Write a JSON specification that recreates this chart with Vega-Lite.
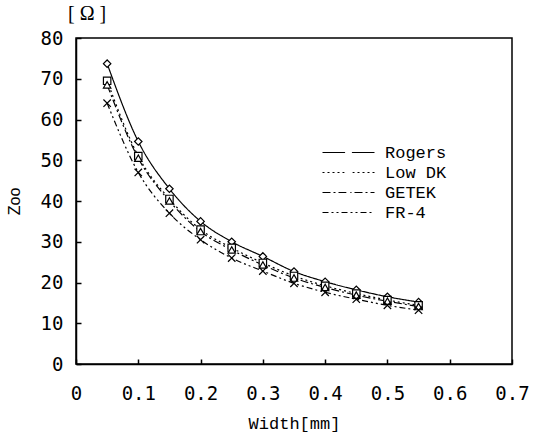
{
  "$schema": "https://vega.github.io/schema/vega-lite/v6.json",
  "width": 436,
  "height": 326,
  "autosize": {"type": "none"},
  "padding": {"left": 76, "top": 38, "right": 28, "bottom": 70},
  "background": "white",
  "title": {"text": "[ Ω ]", "anchor": "start", "frame": "group", "dx": -8, "offset": 5, "font": "Liberation Serif", "fontSize": 20, "fontWeight": "normal", "color": "black"},
  "config": {
    "view": {"stroke": "black", "strokeWidth": 1.5},
    "axis": {"grid": false, "domainColor": "black", "domainWidth": 1.5, "tickColor": "black", "tickSize": -5, "tickWidth": 1.5, "labelColor": "black", "labelFont": "DejaVu Sans Mono", "labelFontSize": 19, "titleColor": "black", "titleFontWeight": "normal"}
  },
  "data": {
    "values": [
      {"w": 0.05, "zoo": 73.7, "s": "Rogers"},
      {"w": 0.10, "zoo": 54.6, "s": "Rogers"},
      {"w": 0.15, "zoo": 43.0, "s": "Rogers"},
      {"w": 0.20, "zoo": 35.0, "s": "Rogers"},
      {"w": 0.25, "zoo": 30.0, "s": "Rogers"},
      {"w": 0.30, "zoo": 26.4, "s": "Rogers"},
      {"w": 0.35, "zoo": 22.7, "s": "Rogers"},
      {"w": 0.40, "zoo": 20.2, "s": "Rogers"},
      {"w": 0.45, "zoo": 18.2, "s": "Rogers"},
      {"w": 0.50, "zoo": 16.5, "s": "Rogers"},
      {"w": 0.55, "zoo": 15.2, "s": "Rogers"},
      {"w": 0.05, "zoo": 69.5, "s": "Low DK"},
      {"w": 0.10, "zoo": 51.0, "s": "Low DK"},
      {"w": 0.15, "zoo": 40.5, "s": "Low DK"},
      {"w": 0.20, "zoo": 33.0, "s": "Low DK"},
      {"w": 0.25, "zoo": 28.5, "s": "Low DK"},
      {"w": 0.30, "zoo": 24.8, "s": "Low DK"},
      {"w": 0.35, "zoo": 21.6, "s": "Low DK"},
      {"w": 0.40, "zoo": 19.2, "s": "Low DK"},
      {"w": 0.45, "zoo": 17.3, "s": "Low DK"},
      {"w": 0.50, "zoo": 15.7, "s": "Low DK"},
      {"w": 0.55, "zoo": 14.4, "s": "Low DK"},
      {"w": 0.05, "zoo": 68.5, "s": "GETEK"},
      {"w": 0.10, "zoo": 50.5, "s": "GETEK"},
      {"w": 0.15, "zoo": 40.0, "s": "GETEK"},
      {"w": 0.20, "zoo": 32.5, "s": "GETEK"},
      {"w": 0.25, "zoo": 28.0, "s": "GETEK"},
      {"w": 0.30, "zoo": 24.3, "s": "GETEK"},
      {"w": 0.35, "zoo": 21.1, "s": "GETEK"},
      {"w": 0.40, "zoo": 18.8, "s": "GETEK"},
      {"w": 0.45, "zoo": 16.9, "s": "GETEK"},
      {"w": 0.50, "zoo": 15.4, "s": "GETEK"},
      {"w": 0.55, "zoo": 14.1, "s": "GETEK"},
      {"w": 0.05, "zoo": 64.0, "s": "FR-4"},
      {"w": 0.10, "zoo": 47.0, "s": "FR-4"},
      {"w": 0.15, "zoo": 37.0, "s": "FR-4"},
      {"w": 0.20, "zoo": 30.5, "s": "FR-4"},
      {"w": 0.25, "zoo": 26.0, "s": "FR-4"},
      {"w": 0.30, "zoo": 22.8, "s": "FR-4"},
      {"w": 0.35, "zoo": 19.8, "s": "FR-4"},
      {"w": 0.40, "zoo": 17.6, "s": "FR-4"},
      {"w": 0.45, "zoo": 15.9, "s": "FR-4"},
      {"w": 0.50, "zoo": 14.4, "s": "FR-4"},
      {"w": 0.55, "zoo": 13.2, "s": "FR-4"}
    ]
  },
  "encoding": {
    "x": {"field": "w", "type": "quantitative", "scale": {"domain": [0, 0.7], "nice": false},
      "axis": {"values": [0, 0.1, 0.2, 0.3, 0.4, 0.5, 0.6, 0.7], "format": ".1~f", "labelPadding": 25, "title": "Width[mm]", "titleFont": "Liberation Mono", "titleFontSize": 17, "titlePadding": 12, "labelFlush": false}},
    "y": {"field": "zoo", "type": "quantitative", "scale": {"domain": [0, 80], "nice": false},
      "axis": {"values": [0, 10, 20, 30, 40, 50, 60, 70, 80], "labelPadding": 18, "title": "Zoo", "titleFont": "Liberation Sans", "titleFontSize": 16, "titlePadding": 18}}
  },
  "layer": [
    {
      "mark": {"type": "line", "interpolate": "monotone", "color": "black", "strokeWidth": 1.2},
      "encoding": {
        "strokeDash": {"field": "s", "type": "nominal",
          "scale": {"domain": ["FR-4", "GETEK", "Low DK", "Rogers"], "range": [[6, 3, 2, 3, 2, 3], [8, 3, 2, 3], [2, 3], [1, 0]]},
          "legend": {
            "orient": "none", "legendX": 264, "legendY": 106, "title": null, "padding": 0,
            "values": ["Rogers", "Low DK", "GETEK", "FR-4"],
            "symbolType": "M-5.2,0H5.2", "symbolSize": 100, "symbolStrokeWidth": 1.2, "symbolStrokeColor": "black", "symbolFillColor": "transparent", "symbolOpacity": 1,
            "labelFont": "Liberation Mono", "labelFontSize": 17, "labelColor": "black", "labelOpacity": 0, "labelOffset": 28, "rowPadding": 2
          }
        }
      }
    },
    {
      "mark": {"type": "point", "filled": false, "fill": "white", "stroke": "black", "color": "black", "strokeWidth": 1.2, "size": 55, "opacity": 1},
      "encoding": {
        "shape": {"field": "s", "type": "nominal",
          "scale": {"domain": ["Rogers", "Low DK", "GETEK", "FR-4"], "range": ["diamond", "square", "triangle-up", "M-1,-1L1,1M-1,1L1,-1"]},
          "legend": {
            "orient": "none", "legendX": 264, "legendY": 106, "title": null, "padding": 0,
            "symbolSize": 55, "symbolStrokeWidth": 1.2, "symbolStrokeColor": "black", "symbolFillColor": "white", "symbolOpacity": 1,
            "labelFont": "Liberation Mono", "labelFontSize": 17, "labelColor": "black", "labelOffset": 28, "rowPadding": 2
          }
        }
      }
    }
  ]
}
